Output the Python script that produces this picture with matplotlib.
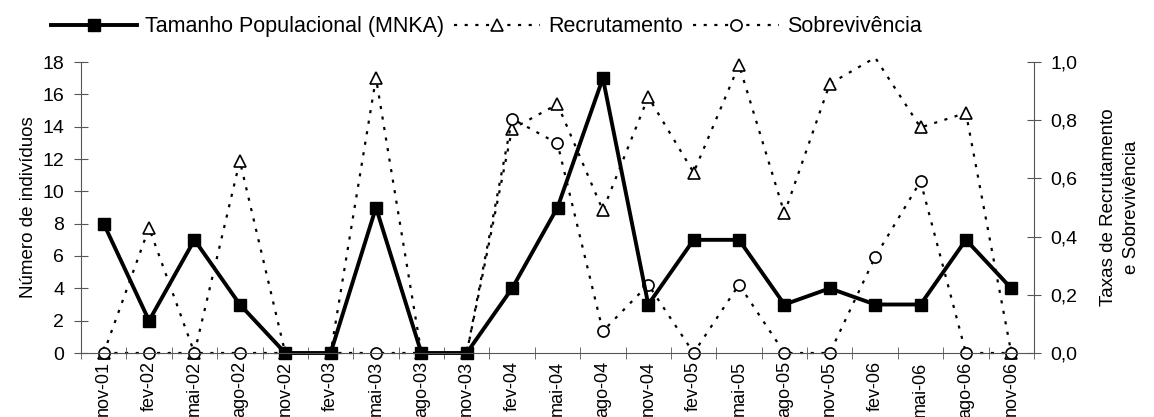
import matplotlib.pyplot as plt

plt.rcParams['font.family'] = ['Liberation Sans', 'DejaVu Sans']

meses = ['nov-01', 'fev-02', 'mai-02', 'ago-02', 'nov-02', 'fev-03', 'mai-03',
         'ago-03', 'nov-03', 'fev-04', 'mai-04', 'ago-04', 'nov-04', 'fev-05',
         'mai-05', 'ago-05', 'nov-05', 'fev-06', 'mai-06', 'ago-06', 'nov-06']
tamanho = [8, 2, 7, 3, 0, 0, 9, 0, 0, 4, 9, 17, 3, 7, 7, 3, 4, 3, 3, 7, 4]
recrutamento = [0, 0.43, 0, 0.66, 0, 0, 0.945, 0, 0, 0.77, 0.855, 0.49, 0.88,
                0.62, 0.99, 0.48, 0.925, 1.015, 0.775, 0.825, 0]
sobrevivencia = [0, 0, 0, 0, 0, 0, 0, 0, 0, 0.805, 0.72, 0.075, 0.235, 0,
                 0.235, 0, 0, 0.33, 0.59, 0, 0]

x = list(range(len(meses)))

fig = plt.figure(figsize=(11.54, 4.17), dpi=100)
ax = fig.add_axes([81 / 1154, 64 / 417, 953 / 1154, 291 / 417])
ax2 = ax.twinx()

# taxas no eixo da direita (linhas pontilhadas)
dots = (0, (1.4, 3.4))
sem_topo = [i for i in x if recrutamento[i] <= 1.0]
l2, = ax2.plot(x, recrutamento, color='black', lw=1.6, ls=dots, marker='^',
               ms=9, mfc='white', mec='black', mew=1.2, markevery=sem_topo,
               clip_on=False, label='Recrutamento')
l3, = ax2.plot(x, sobrevivencia, color='black', lw=1.6, ls=dots, marker='o',
               ms=8, mfc='white', mec='black', mew=1.2, clip_on=False,
               label='Sobrevivência')

# tamanho populacional no eixo da esquerda
l1, = ax.plot(x, tamanho, color='black', lw=2.8, marker='s', ms=8,
              mfc='black', mec='black', clip_on=False,
              label='Tamanho Populacional (MNKA)')
ax.set_zorder(ax2.get_zorder() + 1)
ax.patch.set_visible(False)

ax.set_xlim(-0.5, len(meses) - 0.5)
ax.set_ylim(0, 18)
ax.set_yticks(range(0, 19, 2))
ax2.set_ylim(0, 1.0)
ax2.set_yticks([0, 0.2, 0.4, 0.6, 0.8, 1.0])
ax2.set_yticklabels(['0,0', '0,2', '0,4', '0,6', '0,8', '1,0'])

ax.set_xticks(x)
ax.set_xticklabels(meses, rotation=90, fontsize=13)
ax.set_xticks([i - 0.5 for i in range(len(meses) + 1)], minor=True)
ax.tick_params(axis='x', which='major', length=0, pad=6)
ax.tick_params(axis='x', which='minor', direction='inout', length=8,
               color='#555555')
ax.tick_params(axis='y', direction='inout', length=10, labelsize=14,
               color='#555555', pad=7)
ax2.tick_params(axis='y', direction='inout', length=10, labelsize=14,
                color='#555555', pad=7)

for a in (ax, ax2):
    a.spines['top'].set_visible(False)
    for s in ('left', 'right', 'bottom'):
        a.spines[s].set_color('#555555')
ax.spines['right'].set_visible(False)
ax2.spines['left'].set_visible(False)
ax2.spines['bottom'].set_visible(False)

ax.set_ylabel('Número de indivíduos', fontsize=13.5, labelpad=4)
ax2.set_ylabel('Taxas de Recrutamento\ne Sobrevivência', fontsize=13.5,
               linespacing=1.45, labelpad=16)

fig.legend(handles=[l1, l2, l3], loc='upper left', bbox_to_anchor=(0.027, 1.008),
           ncol=3, frameon=False, fontsize=15.5, handlelength=4.0,
           columnspacing=0.47, handletextpad=0.37)

plt.savefig('out.png', dpi=100)
